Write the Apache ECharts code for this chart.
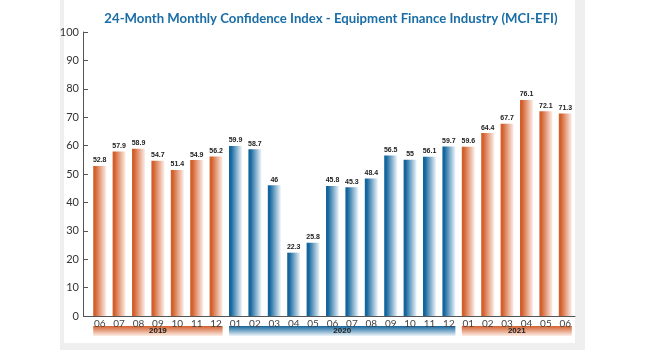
<!DOCTYPE html>
<html>
<head>
<meta charset="utf-8">
<script src="https://cdn.jsdelivr.net/npm/echarts@6/dist/echarts.min.js"></script>
<style>
  html, body { margin: 0; padding: 0; background: #fff; }
  #chart { width: 645px; height: 350px; }
</style>
</head>
<body>
<div id="chart"></div>
<script>
// months shown on the x axis, grouped by year
const months = ['06', '07', '08', '09', '10', '11', '12',
  '01', '02', '03', '04', '05', '06', '07', '08', '09', '10', '11', '12',
  '01', '02', '03', '04', '05', '06'];
const years = ['2019', '2020', '2021'];
const yearCounts = [7, 12, 6];
const mciValues = [52.8, 57.9, 58.9, 54.7, 51.4, 54.9, 56.2,
  59.9, 58.7, 46, 22.3, 25.8, 45.8, 45.3, 48.4, 56.5, 55, 56.1, 59.7,
  59.6, 64.4, 67.7, 76.1, 72.1, 71.3];
const yTicks = [0, 100, 10]; // min, max, step

const orange = ['#d35f2b', '#fcefe9'];
const blue = ['#13659d', '#eef5fa'];
const yearPalette = [orange, blue, orange];

function hGrad(c) {
  return new echarts.graphic.LinearGradient(0, 0, 1, 0, [
    { offset: 0, color: c[0] },
    { offset: 0.15, color: c[0] },
    { offset: 1, color: c[1] }
  ]);
}
function vGrad(c) {
  return new echarts.graphic.LinearGradient(0, 0, 0, 1, [
    { offset: 0, color: c[0] },
    { offset: 1, color: c[1] }
  ]);
}

// which year each month belongs to
const yearOf = [];
yearCounts.forEach((n, y) => { for (let i = 0; i < n; i++) yearOf.push(y); });

const barData = mciValues.map((v, i) => ({
  value: v,
  itemStyle: { color: hGrad(yearPalette[yearOf[i]]) }
}));

const barW = 13;
const chart = echarts.init(document.getElementById('chart'));
chart.setOption({
  animation: false,
  title: {
    text: '24-Month Monthly Confidence Index - Equipment Finance Industry (MCI-EFI)',
    left: 326,
    top: 7,
    textAlign: 'center',
    textStyle: { fontFamily: 'Lato', fontWeight: 'bold', fontSize: 13.2, color: '#1a6da6' }
  },
  grid: { left: 90, right: 70, top: 32, bottom: 34 },
  xAxis: {
    type: 'category',
    data: months,
    axisLine: { lineStyle: { color: '#555', width: 1 } },
    axisTick: { show: false },
    axisLabel: { color: '#444', fontSize: 10, fontFamily: 'Lato', margin: 3 }
  },
  yAxis: {
    type: 'value',
    min: yTicks[0],
    max: yTicks[1],
    interval: yTicks[2],
    offset: 7,
    splitLine: { show: false },
    axisLine: { show: true, lineStyle: { color: '#555', width: 1 } },
    axisTick: { show: true, inside: true, length: 5, lineStyle: { color: '#555' } },
    axisLabel: { color: '#333', fontSize: 11, fontFamily: 'Lato', margin: 4 }
  },
  series: [{
    type: 'bar',
    data: barData,
    barWidth: barW,
    label: {
      show: true,
      position: 'top',
      distance: 2,
      fontSize: 7,
      fontWeight: 'bold',
      fontFamily: 'Liberation Sans',
      color: '#222'
    }
  }]
});

// frame, axis joint and the year bands under the month labels
const y0 = chart.convertToPixel({ yAxisIndex: 0 }, 0);
const graphics = [
  { type: 'rect', z: -10, shape: { x: 60, y: 0, width: 525, height: 350 }, style: { fill: '#efeff0' } },
  { type: 'rect', z: -9, shape: { x: 64, y: 0, width: 511, height: 343 }, style: { fill: '#ffffff' } },
  { type: 'line', shape: { x1: 83, y1: y0 + 0.5, x2: 90, y2: y0 + 0.5 }, style: { stroke: '#555', lineWidth: 1 } }
];
let start = 0;
years.forEach((yr, k) => {
  const end = start + yearCounts[k] - 1;
  const x0 = chart.convertToPixel({ xAxisIndex: 0 }, start) - barW / 2;
  const x1 = chart.convertToPixel({ xAxisIndex: 0 }, end) + barW / 2;
  graphics.push({
    type: 'rect',
    shape: { x: x0, y: y0 + 10, width: x1 - x0, height: 10 },
    style: { fill: vGrad(yearPalette[k]) }
  });
  graphics.push({
    type: 'text',
    style: {
      x: (x0 + x1) / 2, y: y0 + 15, text: yr,
      align: 'center', verticalAlign: 'middle',
      font: 'bold 8px "Liberation Sans"', fill: '#222'
    }
  });
  start = end + 1;
});
chart.setOption({ graphic: graphics });
</script>
</body>
</html>
